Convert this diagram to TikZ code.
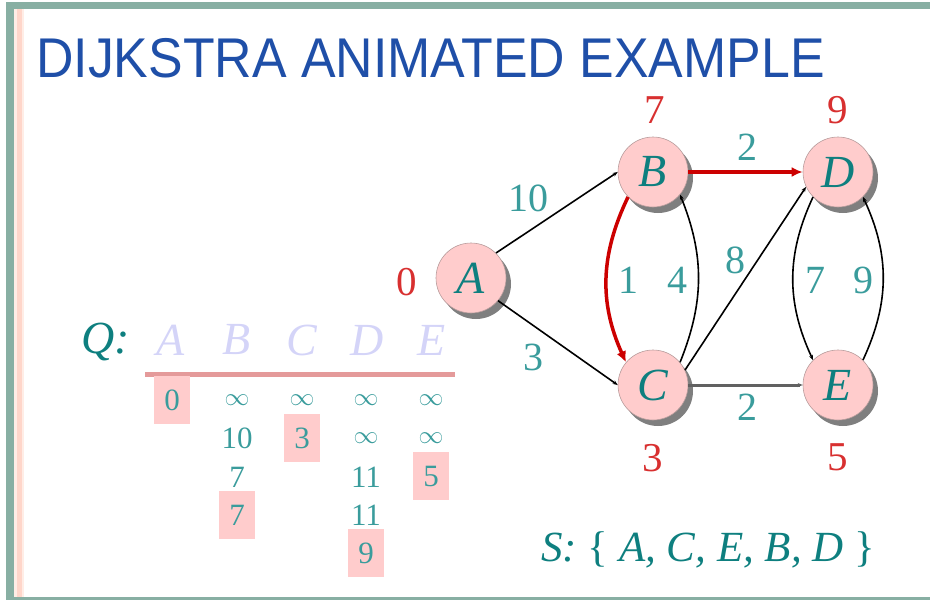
\documentclass[tikz,border=0pt]{standalone}
\usepackage{fontspec}
\setmainfont{Liberation Serif}
\newfontfamily\titlefont{Liberation Sans}
\usetikzlibrary{arrows.meta,shadows}
\definecolor{frame}{HTML}{88AFA3}
\definecolor{stripe}{HTML}{FFD6CA}
\definecolor{stripelt}{HTML}{FFEDE6}
\definecolor{titleblue}{HTML}{1F4FA8}
\definecolor{nodefill}{HTML}{FFCCCC}
\definecolor{nodeline}{HTML}{B89C9C}
\definecolor{shade}{HTML}{7F7F7F}
\definecolor{tealdk}{HTML}{0E7F7F}
\definecolor{teallt}{HTML}{3A9C9C}
\definecolor{hot}{HTML}{CC0000}
\definecolor{distred}{HTML}{D83030}
\definecolor{lavender}{HTML}{D4D4F8}
\definecolor{qline}{HTML}{E49A9A}
\tikzset{
  vertex/.style={circle, minimum size=70pt, inner sep=0pt, fill=nodefill,
    draw=nodeline, line width=0.6pt,
    drop shadow={shadow xshift=5pt, shadow yshift=-6pt, fill=shade, opacity=1},
    text=tealdk, font=\fontsize{46}{46}\selectfont\itshape},
  edge/.style={black, line width=1.6pt, -{Stealth[length=5pt, width=4pt]}},
  hotedge/.style={hot, line width=3.5pt, -{Latex[length=11pt, width=10pt]}},
  wt/.style={inner sep=0pt, text=teallt, font=\fontsize{40}{40}\selectfont},
  dist/.style={inner sep=0pt, text=distred, font=\fontsize{41}{41}\selectfont},
  qhead/.style={inner sep=0pt, text=lavender, font=\fontsize{46}{46}\selectfont\itshape},
  qval/.style={inner sep=0pt, text=teallt, text height=20pt, text depth=0pt,
    font=\fontsize{31}{31}\selectfont},
  qinf/.style={inner sep=0pt, text=teallt, font=\fontsize{28}{28}\selectfont},
  qpick/.style={qval, fill=nodefill, minimum width=36pt, minimum height=48pt},
}

\begin{document}
\begin{tikzpicture}[x=1pt, y=-1pt]

\useasboundingbox (0,0) rectangle (930,600);

% slide frame
\fill[frame] (6,2) rectangle (930,9);
\fill[frame] (6,2) rectangle (14,600);
\fill[frame] (14,597) rectangle (930,600);
\fill[stripelt] (14,9) rectangle (24,597);
\fill[stripe] (17,9) rectangle (22,597);

% title
\node[anchor=base west, inner sep=0pt, text=titleblue] (title) at (36,77)
  {\titlefont\fontsize{56}{56}\selectfont\scalebox{0.926}[1]{DIJKSTRA ANIMATED EXAMPLE}};

% graph
\node[vertex] (A) at (471,278) {A};
\node[vertex] (B) at (653,172) {B};
\node[vertex] (C) at (653,385) {C};
\node[vertex] (D) at (838,172) {D};
\node[vertex] (E) at (838,385) {E};

\draw[edge] (A.45) -- (B.west);
\draw[edge] (A.-40) -- (C.west);
\draw[hotedge] (B.east) -- (D.west);
\draw[hotedge] (B.225) to[bend right=25] (C.140);
\draw[edge] (C.40) to[bend right=22] (B.-40);
\draw[edge] (C.25) -- (D.205);
\draw[edge, line width=3pt, black!62] (C.east) -- (E.west);
\draw[edge] (D.225) to[bend right=25] (E.135);
\draw[edge] (E.45) to[bend right=25] (D.-45);

% edge weights
\node[wt] (wAB) at (528,198) {10};
\node[wt] (wAC) at (533,357) {3};
\node[wt] (wBD) at (747,147) {2};
\node[wt] (wBC) at (628,280) {1};
\node[wt] (wCB) at (677,280) {4};
\node[wt] (wCD) at (735,260) {8};
\node[wt] (wCE) at (747,407) {2};
\node[wt] (wDE) at (815,280) {7};
\node[wt] (wED) at (863,280) {9};

% distances
\node[dist] (dA) at (407,282) {0};
\node[dist] (dB) at (655,110) {7};
\node[dist] (dD) at (838,110) {9};
\node[dist] (dC) at (653,458) {3};
\node[dist] (dE) at (838,457) {5};

% queue table
\node[inner sep=0pt, text=tealdk, font=\fontsize{46}{46}\selectfont\itshape] (qlabel) at (106,342) {Q:};
\node[qhead] (hA) at (171,340) {A};
\node[qhead] (hB) at (237,340) {B};
\node[qhead] (hC) at (302,340) {C};
\node[qhead] (hD) at (367,340) {D};
\node[qhead] (hE) at (432,340) {E};
\draw[qline, line width=5pt] (145,374.5) -- (455,374.5);

\node[qpick] (a1) at (172,400) {0};
\node[qinf] (b1) at (237,400) {$\infty$};
\node[qinf] (c1) at (302,400) {$\infty$};
\node[qinf] (d1) at (366,400) {$\infty$};
\node[qinf] (e1) at (431,400) {$\infty$};

\node[qval] (b2) at (237,438) {10};
\node[qpick] (c2) at (302,438) {3};
\node[qinf] (d2) at (366,438) {$\infty$};
\node[qinf] (e2) at (431,438) {$\infty$};

\node[qval] (b3) at (237,477) {7};
\node[qval] (d3) at (366,477) {11};
\node[qpick] (e3) at (431,476) {5};

\node[qpick] (b4) at (237,515) {7};
\node[qval] (d4) at (366,515) {11};

\node[qpick] (d5) at (366,553) {9};

% settled set
\node[anchor=west, inner sep=0pt, text=tealdk, font=\fontsize{43}{43}\selectfont\itshape] (sset) at (541,550)
  {S: \textup{\{} A, C, E, B, D \textup{\}}};

\end{tikzpicture}
\end{document}
